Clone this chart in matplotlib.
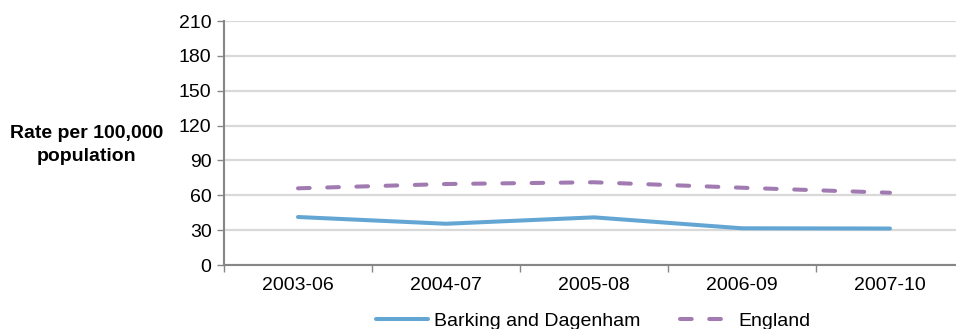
import matplotlib
matplotlib.use("Agg")
import matplotlib.pyplot as plt
from matplotlib.ticker import FixedLocator, NullFormatter

plt.rcParams['font.family'] = ['Liberation Sans', 'DejaVu Sans']

periods = ["2003-06", "2004-07", "2005-08", "2006-09", "2007-10"]
barking = [41.3, 35.5, 41.0, 31.6, 31.4]
england = [66.0, 69.7, 71.2, 66.5, 62.2]
y_ticks = [0, 30, 60, 90, 120, 150, 180, 210]

W, H = 956, 329
fig = plt.figure(figsize=(W / 100, H / 100), dpi=100)
ax = fig.add_axes([224 / W, 64 / H, 740 / W, 244 / H])

x = list(range(len(periods)))
blue = "#64A6D3"
purple = "#A07AB1"
lw = 2.9
ax.plot(x, barking, color=blue, lw=lw, solid_capstyle="round",
        solid_joinstyle="round", label="Barking and Dagenham", zorder=3)
ax.plot(x, england, color=purple, lw=lw, dashes=(2.9, 4.35),
        dash_capstyle="round", label="England", zorder=3)

ax.set_xlim(-0.5, len(periods) - 0.5)
ax.set_ylim(0, 210)
ax.set_yticks(y_ticks)
ax.tick_params(axis="y", labelsize=14, length=5, width=1, color="#868686",
               pad=4, labelcolor="black")

# category boundaries carry the tick marks, centres carry the labels
ax.xaxis.set_major_locator(FixedLocator([i - 0.5 for i in range(len(periods) + 1)]))
ax.xaxis.set_major_formatter(NullFormatter())
ax.xaxis.set_minor_locator(FixedLocator(x))
ax.set_xticklabels(periods, minor=True)
ax.tick_params(axis="x", which="major", length=5, width=1, color="#868686")
ax.tick_params(axis="x", which="minor", length=0, labelsize=14, pad=9)

ax.grid(axis="y", color="#D9D9D9", lw=1.6)
ax.set_axisbelow(True)
for s in ["top", "right"]:
    ax.spines[s].set_visible(False)
for s in ["left", "bottom"]:
    ax.spines[s].set_color("#868686")
    ax.spines[s].set_linewidth(1.5)

fig.text(87 / W, 1 - 145 / H, "Rate per 100,000\npopulation", ha="center",
         va="center", fontsize=14, fontweight="bold", linespacing=1.4)

fig.legend(loc="center", bbox_to_anchor=(593 / W, 1 - 321 / H), ncol=2,
           frameon=False, fontsize=14, handlelength=2.7, handletextpad=0.3,
           columnspacing=2.0)

fig.savefig("out.png", dpi=100)
